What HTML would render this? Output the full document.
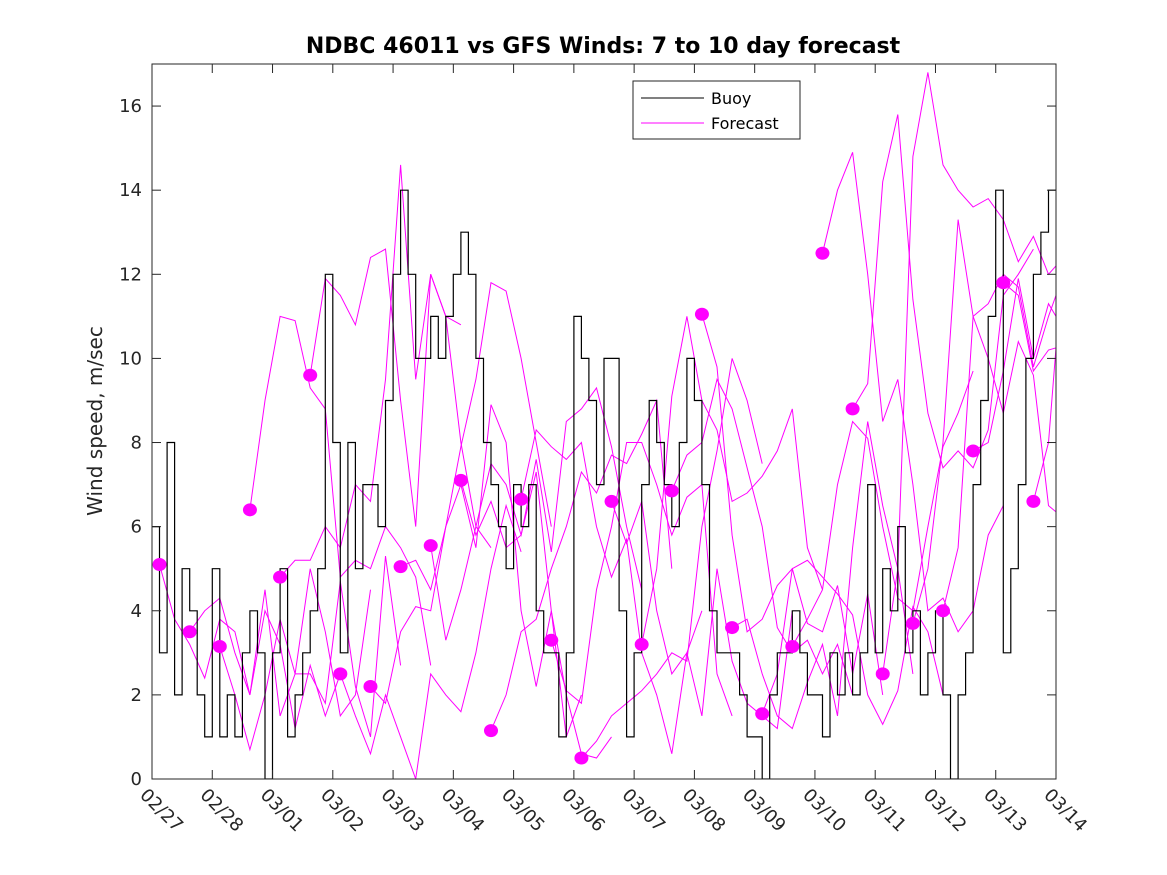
<!DOCTYPE html>
<html><head><meta charset="utf-8"><style>
html,body{margin:0;padding:0;background:#fff;}
svg{display:block;font-family:"DejaVu Sans","Liberation Sans",sans-serif;}
</style></head><body>
<svg id="chart" width="1167" height="875" viewBox="0 0 1167 875">
<defs><clipPath id="plotclip"><rect x="152" y="64" width="904" height="715"/></clipPath></defs>
<rect x="0" y="0" width="1167" height="875" fill="#fff"/>
<text x="603" y="53" text-anchor="middle" font-size="22" font-weight="bold">NDBC 46011 vs GFS Winds: 7 to 10 day forecast</text>
<g id="series" clip-path="url(#plotclip)"></g>
<g id="markers"></g>
<rect x="152" y="64" width="904" height="715" fill="none" stroke="#262626" stroke-width="1"/>
<g id="ticks"></g>
<text transform="translate(102,421) rotate(-90)" text-anchor="middle" font-size="20" fill="#262626">Wind speed, m/sec</text>
<g>
<rect x="633" y="81" width="167" height="58" fill="#fff" stroke="#262626" stroke-width="1"/>
<line x1="641" y1="98" x2="704" y2="98" stroke="#000" stroke-width="1"/>
<text x="711" y="104" font-size="16" fill="#000">Buoy</text>
<line x1="641" y1="123" x2="704" y2="123" stroke="#ff00ff" stroke-width="1"/>
<text x="711" y="129" font-size="16" fill="#000">Forecast</text>
</g>
</svg>
<script>
const xTickLabels = ["02/27","02/28","03/01","03/02","03/03","03/04","03/05","03/06","03/07","03/08","03/09","03/10","03/11","03/12","03/13","03/14"];
const yTicks = [0,2,4,6,8,10,12,14,16];
// Buoy wind speed, 3-hourly from 02/27 00:00
const buoyValues = [
6,3,8,2,5,4,2,1,
5,1,2,1,3,4,3,0,
3,5,1,2,3,4,5,12,
8,3,8,5,7,7,6,9,
12,14,12,10,10,11,10,11,
12,13,12,10,8,7,6,5,
7,6,7,4,3,3,1,3,
11,10,9,7,10,10,4,1,
3,7,9,8,7,6,8,10,
9,7,4,3,3,3,2,1,
1,0,2,3,3,4,3,2,
2,1,3,2,3,2,3,7,
3,5,4,6,3,4,2,3,
4,2,0,2,3,7,9,11,
14,3,5,7,10,12,13,14,
14];
const buoyStepDays = 0.125;
// Forecast run start times (days since 02/27 00:00), 6-hourly values
const forecastStarts = [0.125,0.625,1.125,1.625,2.125,2.625,3.125,3.625,4.125,4.625,5.125,5.625,6.125,6.625,7.125,7.625,8.125,8.625,9.125,9.625,10.125,10.625,11.125,11.625,12.125,12.625,13.125,13.625,14.125,14.625];
const forecastStepDays = 0.25;
const forecastRuns = [
[5.1,3.8,3.2,2.4,3.8,3.5,2,4,3.2,1.2,2.7,1.5,2.5],
[3.5,4,4.3,3,2,4.5,1.5,2.5,5,3.5,1.5,2,4.5],
[3.15,2,0.7,2,3.8,2.5,2.5,1.8,4.7,2.2,1,5.3,2.7],
[6.4,9,11,10.9,9.3,8.8,4.8,5.2,5,6,5.5,4.8,2.7],
[4.8,5.2,5.2,6,5.5,7,6.6,9.5,14.6,9.5,12,11,10.8],
[9.6,11.9,11.5,10.8,12.4,12.6,9,6,12,11,8,6,5.5],
[2.5,1.5,0.6,2,1,0,2.5,2,1.6,3,5,6.5,5.4],
[2.2,1.8,3.5,4.1,4,6,7.9,9.5,11.8,11.6,10,8,6],
[5.05,5.2,4.5,6,7,5.5,8.9,8,4,2.2,4,1,2],
[5.55,3.3,4.5,6,7.5,7,5.8,7.3,4,2,0.6,0.5,1],
[7.1,5.8,6.6,5.5,5.8,7.6,5.4,8.5,8.8,9.3,7.9,6,4.5],
[1.15,2,3.5,3.8,5,6,7.3,6.8,7.7,7.5,8.2,9,5],
[6.65,8.3,7.9,7.6,8,6,4.8,5.7,3,2,0.6,3,4],
[3.3,2.1,1.8,4.5,6,8,8,7,5.8,6.7,7,2.5,1.5],
[0.5,0.9,1.5,1.8,2.1,2.5,3,2.8,6,7.8,10,9,7.5],
[6.6,5.6,6.6,4,2.5,3,1.5,5,2.8,1.8,1.5,1.2,4],
[3.2,5,9.1,11,9,8.3,6.6,6.8,7.2,7.8,8.8,5.5,4.5],
[6.85,7.7,8,9.5,8.8,7.4,6,3.6,3,3.3,2.5,3.2,2],
[11.05,9.8,5.8,3.5,3.8,4.6,5,3.7,3.5,4.6,2.5,4.4,2],
[3.6,3.8,2.5,1.5,1.2,2.3,3.2,1.5,5.5,8.5,6.5,5,2.5],
[1.55,2.5,5,5.2,4.8,4.4,3.9,2,1.3,2.1,4.1,3.5,2],
[3.15,3.8,4.5,7,8.5,8.1,6,4.3,4,6,7.9,8.7,9.7],
[12.5,14,14.9,12,8.5,9.5,7,4,4.3,3.5,4,5.8,6.5],
[8.8,9.4,14.2,15.8,11.4,8.7,7.4,7.8,7.4,8.3,11.5,12,12.6],
[2.5,5,14.8,16.8,14.6,14,13.6,13.8,13.3,12.3,12.9,12,12.4],
[3.7,5,8,13.3,11,10,8.7,10.4,9.6,6.5,6.2,8,12.9],
[4.0,5.5,11,11.3,12,11.7,9.8,11,12,12.9,9.7,12,11.5],
[7.8,8,9.7,11.9,10,11.3,10.7,12.5,14.2,14.8,14.3,14.8,14],
[11.8,11.5,9.7,10.2,10.3,11.5,9.3,12,14.6,14,12.5,12.5,13.5],
[6.6,8,12.5]
];

const X0=152, X1=1056, Y0=779, Y1=64, XMAX=15, YMAX=17;
function xs(d){return X0+(X1-X0)*d/XMAX;}
function ys(v){return Y0-(Y0-Y1)*v/YMAX;}
const NS="http://www.w3.org/2000/svg";
function mk(tag,attrs,parent){const e=document.createElementNS(NS,tag);for(const k in attrs)e.setAttribute(k,attrs[k]);parent.appendChild(e);return e;}

const ticksG=document.getElementById('ticks');
xTickLabels.forEach((lab,i)=>{
  const x=xs(i);
  if(i>0&&i<xTickLabels.length-1){
    const t1=mk('line',{x1:x,y1:Y0,x2:x,y2:Y0-9,stroke:'#262626'},ticksG);
    
    
    const t2=mk('line',{x1:x,y1:Y1,x2:x,y2:Y1+9,stroke:'#262626'},ticksG);
    
    
  }
  const tx=mk('text',{transform:`translate(${x-13},${Y0+17}) rotate(45)`,'font-size':'18',fill:'#262626'},ticksG);
  tx.textContent=lab;
  
  
});
yTicks.forEach(v=>{
  const y=ys(v);
  if(v>0){
    const t1=mk('line',{x1:X0,y1:y,x2:X0+9,y2:y,stroke:'#262626'},ticksG);
    
    
    const t2=mk('line',{x1:X1,y1:y,x2:X1-9,y2:y,stroke:'#262626'},ticksG);
    
    
  }
  const tx=mk('text',{x:X0-10,y:y+6,'text-anchor':'end','font-size':'18',fill:'#262626'},ticksG);
  tx.textContent=String(v);
  
  
});

const seriesG=document.getElementById('series');
forecastRuns.forEach((run,i)=>{
  const pts=run.map((v,j)=>xs(forecastStarts[i]+j*forecastStepDays).toFixed(1)+','+ys(v).toFixed(1)).join(' ');
  const pl=mk('polyline',{points:pts,fill:'none',stroke:'#ff00ff','stroke-width':'1'},seriesG);
  
  
});
let d='';
buoyValues.forEach((v,i)=>{
  const x=xs(i*buoyStepDays), y=ys(v);
  if(i===0) d+=`M${x.toFixed(1)},${y.toFixed(1)}`;
  else d+=`V${y.toFixed(1)}`;
  const xn=xs(Math.min((i+1)*buoyStepDays,XMAX));
  d+=`H${xn.toFixed(1)}`;
});
const bl=mk('path',{d:d,fill:'none',stroke:'#000','stroke-width':'1.2'},seriesG);



const mG=document.getElementById('markers');
forecastRuns.forEach((run,i)=>{
  const c=mk('ellipse',{cx:xs(forecastStarts[i]),cy:ys(run[0]),rx:7,ry:6.5,fill:'#ff00ff'},mG);
  
  
});
</script>
</body></html>
